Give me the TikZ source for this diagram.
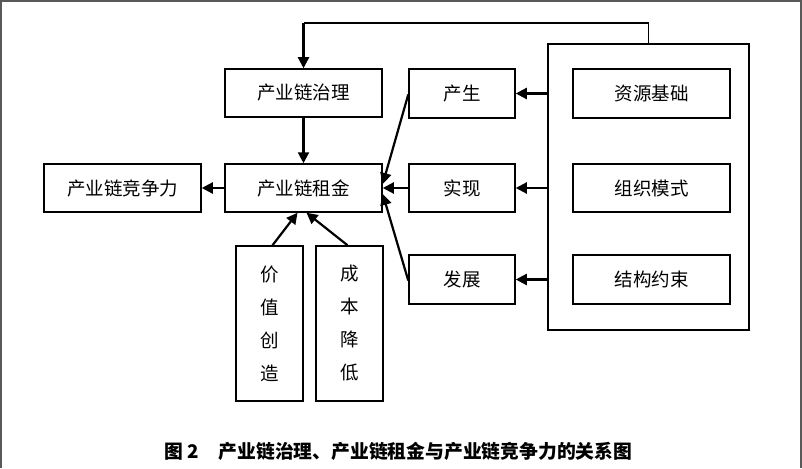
\documentclass[tikz,border=0pt]{standalone}
\usepackage{fontspec}
\newfontfamily\cjk{Noto Sans CJK SC}
\usetikzlibrary{arrows.meta}
\begin{document}
\begin{tikzpicture}[x=1pt,y=-1pt,
  box/.style={draw,line width=1.5pt,rectangle,inner sep=0pt,font=\cjk\fontsize{18.5}{22}\selectfont},
  vbox/.style={box,align=center,font=\cjk\fontsize{18.5}{33}\selectfont},
  arr/.style={line width=2.2pt,-{Triangle[length=11pt,width=11pt]}},
  conn/.style={line width=1.6pt}]
\useasboundingbox (0,0) rectangle (802,468);
\fill[white] (0,0) rectangle (802,468);
\draw[line width=2pt,gray!70!black] (1,468) -- (1,1) -- (800.5,1) -- (800.5,468);
% boxes
\node[box,minimum width=157pt,minimum height=48pt] (gov) at (303.5,93) {产业链治理};
\node[box,minimum width=157pt,minimum height=48pt] (rent) at (303.5,188) {产业链租金};
\node[box,minimum width=157pt,minimum height=48pt] (comp) at (122.5,188) {产业链竞争力};
\node[box,minimum width=106pt,minimum height=49pt] (gen) at (462,93.5) {产生};
\node[box,minimum width=106pt,minimum height=48pt] (real) at (462,188) {实现};
\node[box,minimum width=106pt,minimum height=49pt] (dev) at (462,279.5) {发展};
\node[box,minimum width=201pt,minimum height=286pt] (big) at (648.5,187) {};
\node[box,minimum width=157pt,minimum height=49pt] (res) at (651.5,93.5) {资源基础};
\node[box,minimum width=157pt,minimum height=48pt] (org) at (651.5,188) {组织模式};
\node[box,minimum width=157pt,minimum height=49pt] (str) at (651.5,279.5) {结构约束};
\node[vbox,minimum width=67pt,minimum height=155pt] (val) at (269.5,323.5) {价\\值\\创\\造};
\node[vbox,minimum width=67pt,minimum height=155pt] (cost) at (349.5,323.5) {成\\本\\降\\低};
% connectors
\coordinate (topc) at (303.5,23);
\draw[conn] (big.north) |- (topc);
\draw[arr] (topc) -- (gov.north);
\draw[arr] (gov.south) -- (rent.north);
\draw[arr] (rent.west) -- (comp.east);
\draw[arr] ([yshift=-1pt]gen.west) -- ([yshift=4pt]rent.east);
\draw[arr] (real.west) -- (rent.east);
\draw[arr] ([yshift=-1pt]dev.west) -- ([yshift=-6pt]rent.east);
\draw[arr] ([xshift=3pt]val.north) -- ([xshift=-6pt]rent.south);
\draw[arr] ([xshift=-2pt]cost.north) -- ([xshift=3pt]rent.south);
\draw[arr] (big.west |- gen.east) -- (gen.east);
\draw[arr] (big.west |- real.east) -- (real.east);
\draw[arr] (big.west |- dev.east) -- (dev.east);
% caption
\node[anchor=west,inner sep=0pt,font=\cjk\bfseries\fontsize{18.8}{22}\selectfont] (cap) at (164,451) {图 2\hspace{20pt}产业链治理、产业链租金与产业链竞争力的关系图};
\end{tikzpicture}
\end{document}
